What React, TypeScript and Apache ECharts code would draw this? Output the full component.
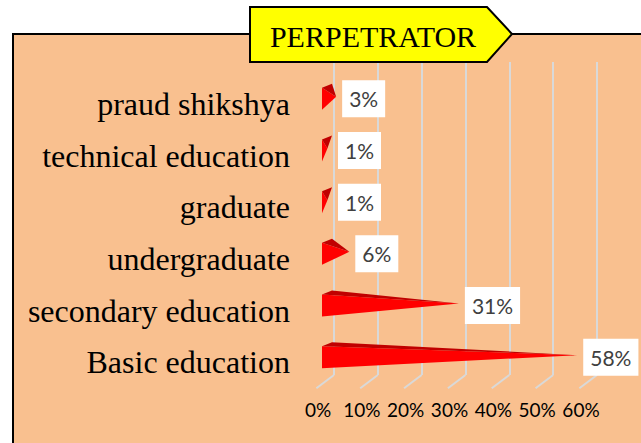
import React, { useEffect, useRef } from "react";
import * as echarts from "echarts";

const categories = [
  "Basic education",
  "secondary education",
  "undergraduate",
  "graduate",
  "technical education",
  "praud shikshya",
];
const values = [58, 31, 6, 1, 1, 3];
const tickValues = [0, 10, 20, 30, 40, 50, 60];
const titleText = "PERPETRATOR";

export default function App() {
  const ref = useRef<HTMLDivElement>(null);
  useEffect(() => {
    document.body.style.margin = "0";
    const chart = echarts.init(ref.current!, null, { renderer: "svg" });
    const barData = values.map((v, i) => [v, i, v + "%"]);
    chart.setOption({
      animation: false,
      backgroundColor: "#ffffff",
      graphic: [
        {
          type: "rect",
          z: -10,
          shape: { x: 13, y: 34, width: 700, height: 500 },
          style: { fill: "#F9C08F", stroke: "#000000", lineWidth: 2 },
        },
        {
          type: "polygon",
          z: 100,
          shape: {
            points: [
              [250, 7],
              [487, 7],
              [512, 34],
              [487, 62],
              [250, 62],
            ],
          },
          style: { fill: "#FFFF00", stroke: "#000000", lineWidth: 2 },
        },
        {
          type: "text",
          z: 101,
          x: 373,
          y: 36,
          style: {
            text: titleText,
            fill: "#000000",
            font: "30px 'Liberation Serif', 'Times New Roman', serif",
            align: "center",
            verticalAlign: "middle",
          },
        },
      ],
      grid: [
        { left: 334, width: 263, top: 62, bottom: 68 },
        { left: 318, width: 263, top: 78, bottom: 55 },
      ],
      xAxis: [
        {
          gridIndex: 0,
          type: "value",
          min: 0,
          max: 60,
          interval: 10,
          axisLabel: { show: false },
          axisLine: { show: false },
          axisTick: { show: false },
          splitLine: { show: true, lineStyle: { color: "#D9D9D9", width: 2 } },
        },
        {
          gridIndex: 1,
          type: "value",
          min: 0,
          max: 60,
          interval: 10,
          axisLine: { show: false },
          axisTick: { show: false },
          splitLine: { show: false },
          axisLabel: {
            color: "#000000",
            fontFamily: "Lato",
            fontSize: 19,
            margin: 12,
            formatter: (v: number) => v + "%",
          },
        },
      ],
      yAxis: [
        {
          gridIndex: 0,
          type: "value",
          min: 0,
          max: 1,
          show: false,
        },
        {
          gridIndex: 1,
          type: "category",
          data: categories,
          axisLine: { show: false },
          axisTick: { show: false },
          splitLine: { show: false },
          axisLabel: {
            color: "#000000",
            fontFamily: "'Liberation Serif', 'Times New Roman', serif",
            fontSize: 32,
            margin: 28,
          },
        },
      ],
      series: [
        {
          type: "custom",
          xAxisIndex: 0,
          yAxisIndex: 0,
          data: tickValues.map((v) => [v, 0]),
          silent: true,
          z: 1,
          renderItem: (params: any, api: any) => {
            const cs = params.coordSys;
            const x = api.coord([api.value(0), 0])[0];
            const yb = cs.y + cs.height;
            return {
              type: "line",
              shape: { x1: x, y1: yb, x2: x - 17.6, y2: yb + 13.3 },
              style: { stroke: "#D9D9D9", lineWidth: 2 },
            };
          },
        },
        {
          type: "custom",
          xAxisIndex: 1,
          yAxisIndex: 1,
          data: barData,
          encode: { x: 0, y: 1 },
          z: 5,
          renderItem: (params: any, api: any) => {
            const v = api.value(0);
            const idx = api.value(1);
            const p0 = api.coord([0, idx]);
            const p1 = api.coord([v, idx]);
            const cy = p0[1];
            const fx = p0[0] + 4;
            const tipX = Math.max(p1[0] + 5, fx + 5);
            const label = values[idx] + "%";
            return {
              type: "group",
              children: [
                {
                  type: "polygon",
                  shape: {
                    points: [
                      [fx, cy - 16],
                      [fx, cy + 6],
                      [tipX, cy - 7],
                    ],
                  },
                  style: { fill: "#FF0000" },
                },
                {
                  type: "polygon",
                  shape: {
                    points: [
                      [fx, cy - 16],
                      [fx + 10, cy - 20],
                      [tipX, cy - 7],
                    ],
                  },
                  style: { fill: "#C00000" },
                },
                {
                  type: "text",
                  x: Math.max(tipX, fx + 10) + 6,
                  y: cy - 5,
                  style: {
                    text: label,
                    fill: "#404040",
                    font: "21px Lato",
                    align: "left",
                    verticalAlign: "middle",
                    backgroundColor: "#FFFFFF",
                    padding: [8, 7, 8, 7],
                  },
                },
              ],
            };
          },
        },
      ],
    });
    return () => chart.dispose();
  }, []);
  return <div ref={ref} style={{ width: 641, height: 443 }} />;
}
